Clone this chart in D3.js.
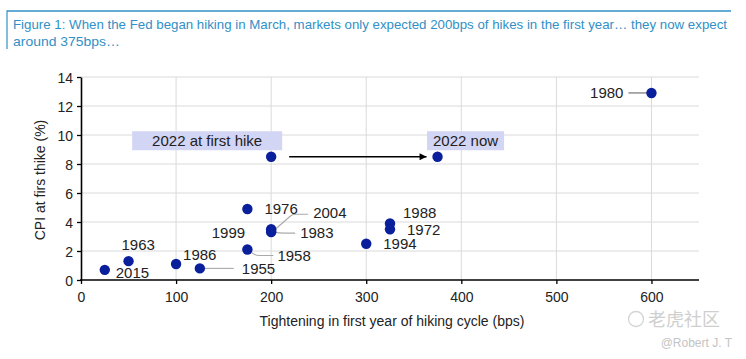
<!DOCTYPE html>
<html><head><meta charset="utf-8">
<script src="https://cdn.jsdelivr.net/npm/d3@7"></script>
<style>
html,body{margin:0;padding:0;background:#fff;}
svg{display:block;}
</style>
</head><body>
<svg id="c" width="746" height="359"></svg>
<script>
// ---- data ----
const labels = ["2015","1963","1986","1955","1976","1958","1999","2004","1983","1988","1972","1994","1980","2022 at first hike","2022 now"];
const tightening = [25,50,100,125,175,175,200,200,200,325,325,300,600,200,375];
const cpi = [0.7,1.3,1.1,0.8,4.9,2.1,3.4,3.5,3.3,3.9,3.5,2.5,12.9,8.5,8.5];
const xTicks = [0,100,200,300,400,500,600];
const yTicks = [0,2,4,6,8,10,12,14];
const titleLines = ["Figure 1: When the Fed began hiking in March, markets only expected 200bps of hikes in the first year\u2026 they now expect","around 375bps\u2026"];
const xTitle = "Tightening in first year of hiking cycle (bps)";
const yTitle = "CPI at firs thike (%)";

// ---- layout (label offsets from their point, pixels) ----
const labelLayout = {
  "2015":{dx:11,dy:3,anchor:"start"},
  "1963":{dx:-7,dy:-17,anchor:"start"},
  "1986":{dx:7,dy:-9,anchor:"start"},
  "1955":{dx:42,dy:0,anchor:"start",leader:"h"},
  "1976":{dx:17,dy:0,anchor:"start"},
  "1958":{dx:30,dy:6,anchor:"start",leader:"c1958"},
  "1999":{dx:-26,dy:2,anchor:"end"},
  "2004":{dx:42,dy:-17,anchor:"start",leader:"c2004"},
  "1983":{dx:29,dy:0,anchor:"start",leader:"c1983"},
  "1988":{dx:13,dy:-11,anchor:"start"},
  "1972":{dx:17,dy:0,anchor:"start"},
  "1994":{dx:17,dy:0,anchor:"start"},
  "1980":{dx:-28,dy:0,anchor:"end",leader:"l1980"},
  "2022 at first hike":{dx:-64,dy:-16,anchor:"middle",box:true},
  "2022 now":{dx:28,dy:-16,anchor:"middle",box:true}
};

const svg = d3.select("#c");
const W=746,H=359;
const m = {left:81, right:746-699, top:77, bottom:359-280};
const x = d3.scaleLinear().domain([0,650]).range([m.left, W-m.right]);
const y = d3.scaleLinear().domain([0,14]).range([H-m.bottom, m.top]);

const titleColor = "#3190c6";
const font = "Arial, 'Liberation Sans', Helvetica, sans-serif";

// title
svg.append("line").attr("x1",7).attr("x2",731).attr("y1",11).attr("y2",11)
  .attr("stroke",titleColor).attr("stroke-width",1.5);
svg.append("line").attr("x1",7).attr("x2",7).attr("y1",10.5).attr("y2",49)
  .attr("stroke",titleColor).attr("stroke-width",1.2);
titleLines.forEach((t,i)=>{
  const el = svg.append("text").attr("x",13).attr("y",28.5+i*17.5)
    .attr("font-family","'Liberation Sans Narrow','Arial Narrow',"+font)
    .attr("font-size",13).attr("fill",titleColor).text(t);
  if(i===0) el.attr("textLength",714).attr("lengthAdjust","spacingAndGlyphs");
  else el.attr("textLength",107).attr("lengthAdjust","spacingAndGlyphs");
});

// grid
const g = svg.append("g");
g.selectAll("line.hg").data(yTicks.filter(d=>d>0)).join("line")
  .attr("x1",x(0)).attr("x2",x(650)).attr("y1",d=>y(d)).attr("y2",d=>y(d))
  .attr("stroke","#dadada").attr("stroke-width",1);
g.selectAll("line.vg").data(xTicks.filter(d=>d>0)).join("line")
  .attr("x1",d=>x(d)).attr("x2",d=>x(d)).attr("y1",y(0)).attr("y2",y(14))
  .attr("stroke","#dadada").attr("stroke-width",1);

// axes
const xAxis = d3.axisBottom(x).tickValues(xTicks).tickSize(4).tickSizeOuter(0).tickPadding(8);
const yAxis = d3.axisLeft(y).tickValues(yTicks).tickSize(4).tickSizeOuter(0).tickPadding(4);
const gx = svg.append("g").attr("transform",`translate(0,${y(0)})`).call(xAxis);
const gy = svg.append("g").attr("transform",`translate(${x(0)},0)`).call(yAxis);
[gx,gy].forEach(a=>{
  a.select(".domain").attr("stroke","#000").attr("stroke-width",1.6);
  a.selectAll(".tick line").attr("stroke","#000").attr("stroke-width",1.3);
  a.selectAll(".tick text").attr("font-family",font).attr("font-size",14).attr("fill","#222");
});
gx.select(".domain").attr("d",`M${x(0)-1},0H${x(650)}`);
gy.selectAll(".tick text").attr("dy","0.36em");

// axis titles
svg.append("text").attr("x",(x(0)+x(650))/2+2).attr("y",326)
  .attr("text-anchor","middle").attr("font-family",font).attr("font-size",14).attr("fill","#222").text(xTitle);
svg.append("text").attr("transform",`translate(45,180) rotate(-90)`)
  .attr("text-anchor","middle").attr("font-family",font).attr("font-size",14).attr("fill","#222").text(yTitle);

// data objects
const pts = labels.map((l,i)=>({label:l, x:tightening[i], y:cpi[i]}));
const byLabel = Object.fromEntries(pts.map(p=>[p.label,p]));

// leaders
const lg = svg.append("g").attr("fill","none");
pts.forEach(p=>{
  const L = labelLayout[p.label]; if(!L.leader) return;
  const px=x(p.x), py=y(p.y);
  const path = d3.path();
  let col="#aaaaaa";
  if(L.leader==="h"){ path.moveTo(px+4,py); path.lineTo(px+L.dx-8,py); }
  if(L.leader==="l1980"){ path.moveTo(px+L.dx+5,py); path.lineTo(px-4,py); col="#666"; }
  if(L.leader==="c1958"){ path.moveTo(px+2,py+1); path.quadraticCurveTo(px+7,py+6,px+12,py+6); path.lineTo(px+L.dx-4,py+6); }
  if(L.leader==="c2004"){ path.moveTo(px+3,py+1); path.lineTo(px+19,py-13); path.quadraticCurveTo(px+21,py-15,px+25,py-15); path.lineTo(px+L.dx-5,py-15); }
  if(L.leader==="c1983"){ path.moveTo(px+3,py); path.quadraticCurveTo(px+8,py+1,px+13,py+1); path.lineTo(px+L.dx-5,py+1); }
  lg.append("path").attr("d",path.toString()).attr("stroke",col).attr("stroke-width",1.1);
});

// arrow between 2022 points
const a0 = byLabel["2022 at first hike"], a1 = byLabel["2022 now"];
svg.append("defs").append("marker").attr("id","ah").attr("viewBox","0 0 10 10")
  .attr("refX",10).attr("refY",5).attr("markerWidth",8).attr("markerHeight",7)
  .attr("markerUnits","userSpaceOnUse").attr("orient","auto")
  .append("path").attr("d","M0,0L10,5L0,10Z").attr("fill","#000");
svg.append("line").attr("x1",x(a0.x)+18).attr("x2",x(a1.x)-11)
  .attr("y1",y(a0.y)).attr("y2",y(a1.y)).attr("stroke","#000").attr("stroke-width",1.4)
  .attr("marker-end","url(#ah)");

// boxes + labels
const tg = svg.append("g").attr("font-family",font).attr("font-size",15).attr("fill","#222");
pts.forEach(p=>{
  const L = labelLayout[p.label];
  const tx = x(p.x)+L.dx, ty = y(p.y)+L.dy;
  const t = tg.append("text").attr("x",tx).attr("y",ty).attr("dy","0.36em")
    .attr("text-anchor",L.anchor).text(p.label);
  if(L.box){
    const w = t.node().getComputedTextLength();
    tg.insert("rect","text").attr("x",tx-w/2-(p.label==="2022 now"?6:20)).attr("y",ty-9.5)
      .attr("width",w+(p.label==="2022 now"?12:40)).attr("height",19).attr("fill","#d3d5f5");
  }
});

// dots
svg.append("g").selectAll("circle").data(pts).join("circle")
  .attr("cx",d=>x(d.x)).attr("cy",d=>y(d.y)).attr("r",5.2).attr("fill","#0a1f9c");

// watermark
const wm = svg.append("g").attr("fill","#cfcfcf");
wm.append("circle").attr("cx",636).attr("cy",319).attr("r",7.5).attr("fill","none").attr("stroke","#d4d4d4").attr("stroke-width",1.3);
wm.append("text").attr("x",648).attr("y",326).attr("font-family","'Noto Sans CJK SC',sans-serif").attr("font-size",18).text("老虎社区");
wm.append("text").attr("x",732).attr("y",347).attr("text-anchor","end").attr("font-family",font).attr("font-size",12).attr("fill","#c4c4c4").text("@Robert J. T");
</script>
</body></html>
